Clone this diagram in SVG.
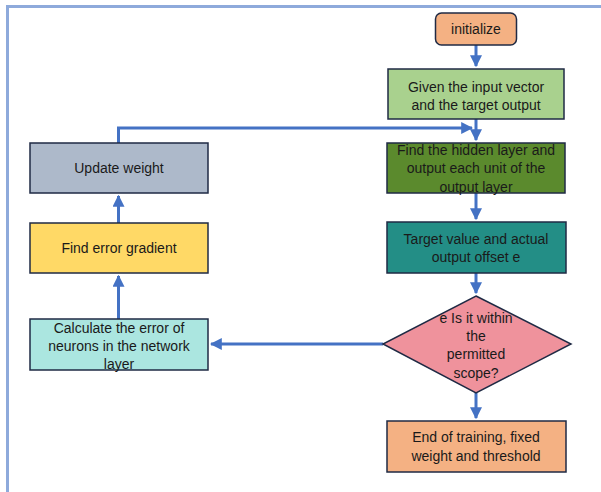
<svg xmlns="http://www.w3.org/2000/svg" width="601" height="492" viewBox="0 0 601 492">
  <defs>
    <marker id="arrow" viewBox="0 0 10 10" refX="9" refY="5" markerWidth="4" markerHeight="4" markerUnits="strokeWidth" orient="auto">
      <path d="M0,0 L10,5 L0,10 z" fill="#4472c4"/>
    </marker>
    <style>
      .box { stroke: #1f2a44; stroke-width: 1.5; }
      .lbl { font-family: "Liberation Sans", Arial, sans-serif; font-size: 14px; fill: #1a1a1a; text-anchor: middle; }
      .link { fill: none; stroke: #4472c4; stroke-width: 3; }
    </style>
  </defs>
  <rect x="0" y="0" width="601" height="492" fill="#ffffff"/>
  <!-- outer frame -->
  <path d="M7.5,492 V6.5 H601" fill="none" stroke="#8eaadb" stroke-width="3"/>

  <g id="connectors">
    <path class="link" d="M476,45 V66" marker-end="url(#arrow)"/>
    <path class="link" d="M476,119 V140" marker-end="url(#arrow)"/>
    <path class="link" d="M118.5,143 V128 H472" marker-end="url(#arrow)"/>
    <path class="link" d="M476,193 V219" marker-end="url(#arrow)"/>
    <path class="link" d="M476,273 V293" marker-end="url(#arrow)"/>
    <path class="link" d="M476,393 V418" marker-end="url(#arrow)"/>
    <path class="link" d="M383,344 H211" marker-end="url(#arrow)"/>
    <path class="link" d="M118.5,319 V276" marker-end="url(#arrow)"/>
    <path class="link" d="M118.5,223 V196" marker-end="url(#arrow)"/>
  </g>

  <g id="initialize">
    <rect class="box" x="435.5" y="13" width="81" height="32" rx="6" fill="#f4b183"/>
    <text class="lbl" x="476" y="34">initialize</text>
  </g>

  <g id="given">
    <rect class="box" x="388" y="69" width="176" height="50" fill="#a9d18e"/>
    <text class="lbl" x="476" y="92">Given the input vector</text>
    <text class="lbl" x="476" y="110">and the target output</text>
  </g>

  <g id="hidden">
    <rect class="box" x="387" y="143" width="178" height="50" fill="#5b8a2d"/>
    <text class="lbl" x="476" y="155">Find the hidden layer and</text>
    <text class="lbl" x="476" y="173">output each unit of the</text>
    <text class="lbl" x="476" y="192">output layer</text>
  </g>

  <g id="offset">
    <rect class="box" x="387" y="222" width="179" height="51" fill="#238e86"/>
    <text class="lbl" x="476" y="244">Target value and actual</text>
    <text class="lbl" x="476" y="262">output offset e</text>
  </g>

  <g id="check">
    <polygon class="box" points="476,296 571,344 476,393 383,344" fill="#ef929c"/>
    <text class="lbl" x="476" y="323">e Is it within</text>
    <text class="lbl" x="476" y="341">the</text>
    <text class="lbl" x="476" y="359">permitted</text>
    <text class="lbl" x="476" y="378">scope?</text>
  </g>

  <g id="end">
    <rect class="box" x="387" y="421" width="179" height="51" fill="#f4b183"/>
    <text class="lbl" x="476" y="442">End of training, fixed</text>
    <text class="lbl" x="476" y="461">weight and threshold</text>
  </g>

  <g id="calculate">
    <rect class="box" x="30" y="319" width="178" height="51" fill="#abe6e0"/>
    <text class="lbl" x="119" y="333">Calculate the error of</text>
    <text class="lbl" x="119" y="351">neurons in the network</text>
    <text class="lbl" x="119" y="369">layer</text>
  </g>

  <g id="gradient">
    <rect class="box" x="30" y="223" width="178" height="50" fill="#ffd966"/>
    <text class="lbl" x="119" y="253">Find error gradient</text>
  </g>

  <g id="update">
    <rect class="box" x="30" y="143" width="178" height="50" fill="#adb9ca"/>
    <text class="lbl" x="119" y="173">Update weight</text>
  </g>
</svg>
